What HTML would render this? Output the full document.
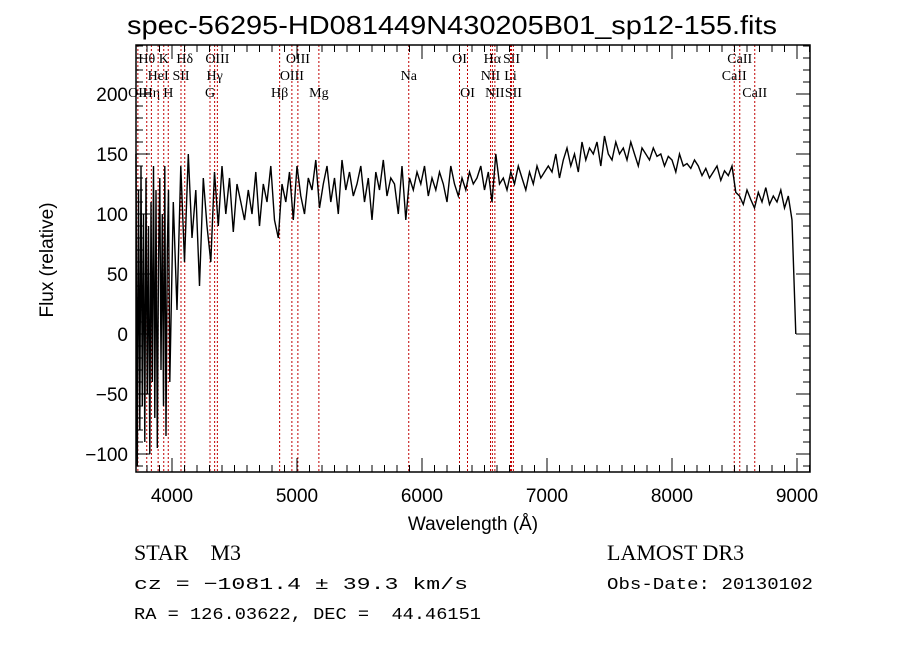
<!DOCTYPE html>
<html><head><meta charset="utf-8"><style>
body{margin:0;background:#fff;width:900px;height:649px;overflow:hidden}
svg{display:block}
.t{font-family:"Liberation Sans",sans-serif}
.s{font-family:"Liberation Serif",serif}
.m{font-family:"Liberation Mono",monospace}
</style></head><body>
<svg id="c" width="900" height="649">
<text class="t" x="127" y="34" font-size="26" textLength="650" lengthAdjust="spacingAndGlyphs">spec-56295-HD081449N430205B01_sp12-155.fits</text>
<g id="lines"></g>
<g id="spec"></g>
<rect x="136" y="45" width="674" height="427" fill="none" stroke="#000" stroke-width="1.5"/>
<g id="axes"></g>
<text class="t" x="473" y="530" font-size="19" text-anchor="middle">Wavelength (Å)</text>
<text class="t" x="53" y="260" font-size="19" text-anchor="middle" transform="rotate(-90 53 260)">Flux (relative)</text>
<text class="s" x="134" y="560" font-size="22" xml:space="preserve" style="white-space:pre">STAR    M3</text>
<text class="m" x="134" y="589" font-size="17" textLength="334" lengthAdjust="spacingAndGlyphs">cz = −1081.4 ± 39.3 km/s</text>
<text class="m" x="134" y="619" font-size="17" textLength="347" lengthAdjust="spacingAndGlyphs" xml:space="preserve" style="white-space:pre">RA = 126.03622, DEC =  44.46151</text>
<text class="s" x="607" y="560" font-size="22">LAMOST DR3</text>
<text class="m" x="607" y="589" font-size="17" textLength="206" lengthAdjust="spacingAndGlyphs">Obs-Date: 20130102</text>
</svg>
<script>
const blueStart = 3712;
const blueStep = 10;
const blueFlux = [150,-110,120,-80,140,-60,100,-90,130,-50,90,-100,110,-40,140,-70,120,-95,60,130,-30,100,-60,140,-85,70,120,-40];
const mainStart = 4010;
const mainStep = 30;
const flux = [110,20,140,60,150,80,120,40,130,90,
60,135,90,140,100,130,85,125,110,95,
120,100,135,90,125,110,140,95,80,125,
110,135,95,140,115,100,130,120,145,105,
125,140,110,130,100,145,120,135,115,125,
140,110,130,95,135,120,145,115,130,125,
100,140,95,130,120,135,125,140,115,130,
120,135,125,110,140,125,115,130,120,135,
125,130,140,120,135,110,150,125,130,120,
135,125,140,130,120,135,125,140,130,135,
140,135,150,130,145,155,140,150,135,160,
145,155,150,160,140,165,150,145,160,150,
155,145,160,150,140,155,150,145,155,148,
150,140,148,145,135,150,140,142,138,145,
140,132,138,130,135,140,128,136,132,140,
118,115,108,120,112,105,118,110,122,108,
115,110,120,105,115,95,0];
const xTicks = [4000,5000,6000,7000,8000,9000];
const yTicks = [-100,-50,0,50,100,150,200];
const lineWaves = [3727,3798,3835,3889,3934,3970,4072,4102,4304,4341,4363,4861,4959,5007,5175,5894,6300,6364,6548,6563,6583,6708,6716,6731,8498,8542,8662];
const lineNames = ["OII","Hθ","Hη","HeI","K","H","SII","Hδ","G","Hγ","OIII","Hβ","OIII","OIII","Mg","Na","OI","OI","NII","Hα","NII","Li","SII","SII","CaII","CaII","CaII"];
const lineRows = [2,0,2,1,0,2,1,0,2,1,0,2,1,0,2,1,0,2,1,0,2,1,0,2,1,0,2];
const NS="http://www.w3.org/2000/svg";
const X=w=>172+(w-4000)*0.125;
const Y=v=>334-v*1.2;
function mk(t,a,p){const e=document.createElementNS(NS,t);for(const k in a)e.setAttribute(k,a[k]);p.appendChild(e);return e;}
const L=document.getElementById('lines'),S=document.getElementById('spec'),A=document.getElementById('axes');
lineWaves.forEach((w,i)=>{
 const l=mk('line',{x1:X(w),x2:X(w),y1:45,y2:472,stroke:'#c00000','stroke-width':1,'stroke-dasharray':'2,2'},L);
 
 
 const t=mk('text',{x:X(w),y:63+lineRows[i]*17,'font-size':14,'text-anchor':'middle',class:'s'},L);
 t.textContent=lineNames[i];
 
 
});
const pts=[];
blueFlux.forEach((v,i)=>pts.push([blueStart+blueStep*i,v]));
flux.forEach((v,i)=>pts.push([mainStart+mainStep*i,v]));
let d='';
pts.forEach((q,i)=>{d+=(i?'L':'M')+X(q[0]).toFixed(1)+','+Y(Math.max(-115,q[1])).toFixed(1);});
const p=mk('path',{d:d,fill:'none',stroke:'#000','stroke-width':1.4},S);


for(let w=3800;w<=9100;w+=100){const maj=w%1000===0;
 mk('line',{x1:X(w),x2:X(w),y1:472,y2:472-(maj?14:7),stroke:'#000'},A);
 mk('line',{x1:X(w),x2:X(w),y1:45,y2:45+(maj?14:7),stroke:'#000'},A);}
xTicks.forEach(w=>{const t=mk('text',{x:X(w),y:502,'font-size':19,'text-anchor':'middle',class:'t'},A);t.textContent=w;
 
 });
for(let v=-110;v<=240;v+=10){const maj=v%50===0;
 mk('line',{x1:136,x2:136+(maj?14:7),y1:Y(v),y2:Y(v),stroke:'#000'},A);
 mk('line',{x1:810,x2:810-(maj?14:7),y1:Y(v),y2:Y(v),stroke:'#000'},A);}
yTicks.forEach(v=>{const t=mk('text',{x:128,y:Y(v)+7,'font-size':19,'text-anchor':'end',class:'t'},A);t.textContent=v<0?'−'+(-v):v;
 
 });
</script>
</body></html>
